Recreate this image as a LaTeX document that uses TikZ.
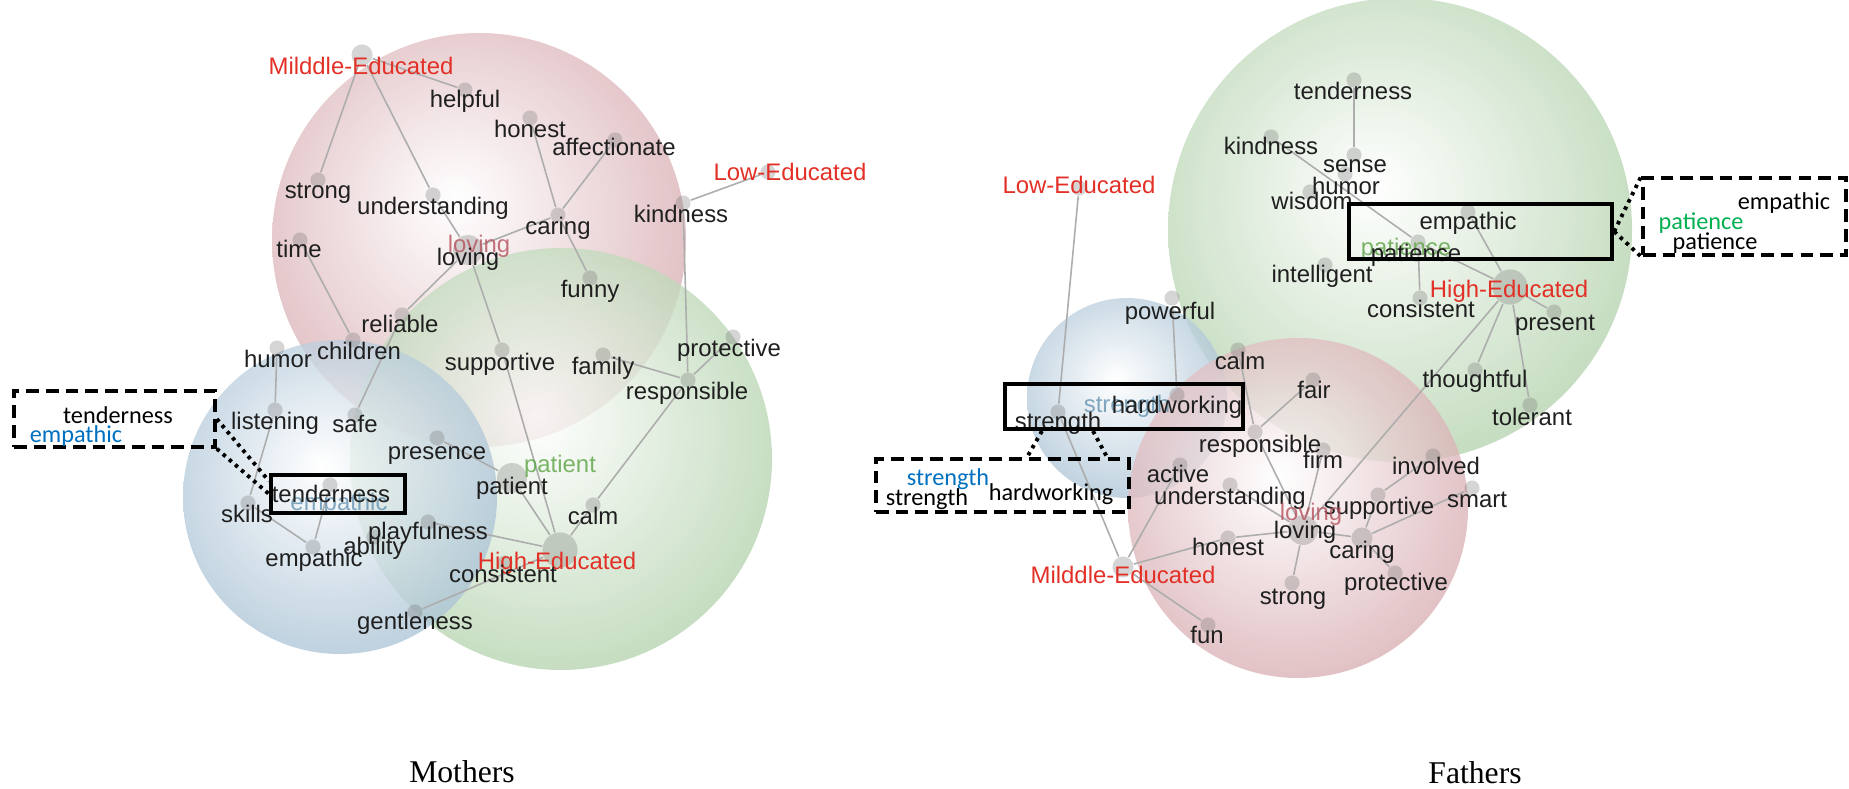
\documentclass[tikz,border=0pt]{standalone}
\usepackage{fontspec}
\setmainfont{Liberation Sans}
\newfontfamily\calloutfont{Carlito}
\newfontfamily\titlefont{Liberation Serif}
\newcommand\wordsize{\fontsize{6.8}{8}\selectfont}
\newcommand\calloutsize{\calloutfont\fontsize{6.9}{8}\selectfont}
\newcommand\titlesize{\titlefont\fontsize{9}{11}\selectfont}
\definecolor{redball}{RGB}{186,110,118}
\definecolor{greenball}{RGB}{122,176,110}
\definecolor{blueball}{RGB}{104,148,180}
\definecolor{edured}{RGB}{226,48,38}
\definecolor{ghostpink}{RGB}{180,82,92}
\definecolor{ghostgreen}{RGB}{100,168,78}
\definecolor{ghostblue}{RGB}{90,140,172}
\definecolor{officeblue}{RGB}{0,112,192}
\definecolor{officegreen}{RGB}{0,176,80}
\pgfdeclareradialshading{redglow}{\pgfpoint{-3bp}{5bp}}{color(0bp)=(white); color(50bp)=(redball)}
\pgfdeclareradialshading{greenglow}{\pgfpoint{-3bp}{5bp}}{color(0bp)=(white); color(50bp)=(greenball)}
\pgfdeclareradialshading{blueglow}{\pgfpoint{-3bp}{5bp}}{color(0bp)=(white); color(50bp)=(blueball)}
\tikzset{ball/.style={opacity=0.78},
         dot/.style={circle,fill=black!55,fill opacity=0.3,draw=none,minimum size=4.3pt,inner sep=0pt},
         hub/.style={dot,minimum size=8.5pt},
         mid hub/.style={dot,minimum size=6pt},
         big hub/.style={dot,minimum size=10pt},
         link/.style={draw=black!32,line width=0.45pt},
         word/.style={rectangle,inner sep=0pt,text height=0.72em,text depth=0pt,font=\wordsize,text=black!88},
         group label/.style={word,text=edured},
         ghost pink/.style={word,text=ghostpink,text opacity=0.8},
         ghost green/.style={word,text=ghostgreen,text opacity=0.85},
         ghost blue/.style={word,text=ghostblue,text opacity=0.75},
         zoom box/.style={rectangle,draw=black,line width=1.15pt,inner sep=0pt},
         callout/.style={rectangle,draw=black,line width=1pt,dash pattern=on 3.6pt off 2pt,inner sep=0pt},
         zoom line/.style={draw=black,line width=1.1pt,dash pattern=on 1pt off 1.3pt},
         callout text/.style={rectangle,inner sep=0pt,text height=0.72em,text depth=0pt,font=\calloutsize},
         title/.style={rectangle,inner sep=0pt,font=\titlesize},
}

\begin{document}
\begin{tikzpicture}[x=0.01cm, y=-0.01cm]

\useasboundingbox (0,0) rectangle (1849,788);

% Mothers
\shade[ball, shading=redglow] (479,240) circle[radius=207];
\shade[ball, shading=greenglow] (561,459) circle[radius=211];
\shade[ball, shading=blueglow] (340,497) circle[radius=157];

% Fathers
\shade[ball, shading=greenglow] (1400,230) circle[radius=232];
\shade[ball, shading=blueglow] (1127,398) circle[radius=100];
\shade[ball, shading=redglow] (1298,508) circle[radius=170];

% Mothers nodes
\node[mid hub] (m_mid) at (362,55) {};
\node[dot] (m_helpful) at (465,90) {};
\node[dot] (m_honest) at (530,118) {};
\node[dot] (m_affect) at (615,140) {};
\node[dot] (m_low) at (768,172) {};
\node[dot] (m_strong) at (318,180) {};
\node[dot] (m_under) at (433,195) {};
\node[dot] (m_kind) at (683,203) {};
\node[dot] (m_caring) at (558,215) {};
\node[dot] (m_time) at (300,240) {};
\node[hub] (m_loving) at (468,250) {};
\node[dot] (m_funny) at (590,278) {};
\node[dot] (m_reliable) at (402,315) {};
\node[dot] (m_prot) at (733,337) {};
\node[dot] (m_children) at (353,340) {};
\node[dot] (m_humor) at (277,348) {};
\node[dot] (m_supp) at (502,350) {};
\node[dot] (m_family) at (603,355) {};
\node[dot] (m_resp) at (688,380) {};
\node[dot] (m_listen) at (275,410) {};
\node[dot] (m_safe) at (355,415) {};
\node[dot] (m_pres) at (437,438) {};
\node[hub] (m_patient) at (512,478) {};
\node[dot] (m_tender) at (330,485) {};
\node[dot] (m_skills) at (248,503) {};
\node[dot] (m_calm) at (593,505) {};
\node[dot] (m_play) at (428,522) {};
\node[dot] (m_ability) at (374,537) {};
\node[dot] (m_empathic) at (313,547) {};
\node[big hub] (m_high) at (560,550) {};
\node[dot] (m_consist) at (505,563) {};
\node[dot] (m_gentle) at (415,612) {};

\draw[link] (m_mid) -- (m_helpful);
\draw[link] (m_mid) -- (m_strong);
\draw[link] (m_mid) -- (m_under);
\draw[link] (m_under) -- (m_loving);
\draw[link] (m_honest) -- (m_caring);
\draw[link] (m_caring) -- (m_funny);
\draw[link] (m_affect) -- (m_caring);
\draw[link] (m_caring) -- (m_loving);
\draw[link] (m_loving) -- (m_supp);
\draw[link] (m_supp) -- (m_high);
\draw[link] (m_loving) -- (m_reliable);
\draw[link] (m_reliable) -- (m_safe);
\draw[link] (m_time) -- (m_children);
\draw[link] (m_humor) -- (m_listen);
\draw[link] (m_listen) -- (m_skills);
\draw[link] (m_skills) -- (m_empathic);
\draw[link] (m_empathic) -- (m_tender);
\draw[link] (m_pres) -- (m_patient);
\draw[link] (m_patient) -- (m_high);
\draw[link] (m_play) -- (m_high);
\draw[link] (m_high) -- (m_gentle);
\draw[link] (m_calm) -- (m_high);
\draw[link] (m_resp) -- (m_calm);
\draw[link] (m_prot) -- (m_resp);
\draw[link] (m_family) -- (m_resp);
\draw[link] (m_kind) -- (m_resp);
\draw[link] (m_kind) -- (m_low);

\node[group label] (m_mid_w) at (361,62) {Milddle-Educated};
\node[word] (m_helpful_w) at (465,95) {helpful};
\node[word] (m_honest_w) at (530,125) {honest};
\node[word] (m_affect_w) at (614,143) {affectionate};
\node[group label] (m_low_w) at (790,168) {Low-Educated};
\node[word] (m_strong_w) at (318,186) {strong};
\node[word] (m_under_w) at (433,202) {understanding};
\node[word] (m_kind_w) at (681,210) {kindness};
\node[word] (m_caring_w) at (558,222) {caring};
\node[word] (m_time_w) at (299,245) {time};
\node[ghost pink] (m_loving_g) at (479,240) {loving};
\node[word] (m_loving_w) at (468,253) {loving};
\node[word] (m_funny_w) at (590,285) {funny};
\node[word] (m_reliable_w) at (400,320) {reliable};
\node[word] (m_prot_w) at (729,344) {protective};
\node[word] (m_children_w) at (359,347) {children};
\node[word] (m_humor_w) at (278,355) {humor};
\node[word] (m_supp_w) at (500,358) {supportive};
\node[word] (m_family_w) at (603,362) {family};
\node[word] (m_resp_w) at (687,387) {responsible};
\node[word] (m_listen_w) at (275,417) {listening};
\node[word] (m_safe_w) at (355,420) {safe};
\node[word] (m_pres_w) at (437,447) {presence};
\node[ghost green] (m_patient_g) at (560,460) {patient};
\node[word] (m_patient_w) at (512,482) {patient};
\node[ghost blue] (m_tender_g) at (339,498) {empathic};
\node[word] (m_tender_w) at (331,490) {tenderness};
\node[word] (m_skills_w) at (247,510) {skills};
\node[word] (m_calm_w) at (593,512) {calm};
\node[word] (m_play_w) at (428,527) {playfulness};
\node[word] (m_ability_w) at (374,542) {ability};
\node[word] (m_empathic_w) at (314,554) {empathic};
\node[group label] (m_high_w) at (557,557) {High-Educated};
\node[word] (m_consist_w) at (503,570) {consistent};
\node[word] (m_gentle_w) at (415,617) {gentleness};

% Mothers zoom
\node[zoom box, minimum width=1.34cm, minimum height=0.38cm] (m_box) at (338,494) {};
\node[callout, minimum width=2.01cm, minimum height=0.56cm] (m_callout) at (114.5,419) {};
\node[callout text] (m_callout_a) at (118,411) {tenderness};
\node[callout text, text=officeblue] (m_callout_b) at (76,430) {empathic};
\draw[zoom line] (m_callout.east) -- ([yshift=-0.08cm]m_box.north west);
\draw[zoom line] (m_callout.south east) -- (m_box.west);

% Fathers nodes
\node[dot] (f_tender) at (1354,80) {};
\node[dot] (f_kind) at (1271,137) {};
\node[dot] (f_sense) at (1354,155) {};
\node[dot] (f_humor) at (1345,174) {};
\node[dot] (f_low) at (1079,188) {};
\node[dot] (f_wisdom) at (1310,192) {};
\node[dot] (f_empathic) at (1468,212) {};
\node[dot] (f_patience) at (1418,242) {};
\node[dot] (f_intel) at (1325,265) {};
\node[big hub] (f_high) at (1510,287) {};
\node[dot] (f_consist) at (1420,298) {};
\node[dot] (f_power) at (1172,298) {};
\node[dot] (f_present) at (1554,312) {};
\node[dot] (f_calm) at (1238,350) {};
\node[dot] (f_thought) at (1475,370) {};
\node[dot] (f_fair) at (1313,380) {};
\node[dot] (f_hard) at (1177,395) {};
\node[dot] (f_tolerant) at (1530,405) {};
\node[dot] (f_strength) at (1058,412) {};
\node[dot] (f_resp) at (1255,432) {};
\node[dot] (f_firm) at (1323,450) {};
\node[dot] (f_involved) at (1433,456) {};
\node[dot] (f_active) at (1180,465) {};
\node[dot] (f_under) at (1230,485) {};
\node[dot] (f_smart) at (1472,488) {};
\node[dot] (f_supp) at (1378,495) {};
\node[hub] (f_loving) at (1303,530) {};
\node[dot] (f_honest) at (1228,538) {};
\node[mid hub] (f_caring) at (1362,538) {};
\node[mid hub] (f_mid) at (1123,567) {};
\node[dot] (f_protect) at (1395,573) {};
\node[dot] (f_strong) at (1292,583) {};
\node[dot] (f_fun) at (1208,625) {};

\draw[link] (f_tender) -- (f_sense);
\draw[link] (f_kind) -- (f_patience);
\draw[link] (f_patience) -- (f_high);
\draw[link] (f_empathic) -- (f_high);
\draw[link] (f_consist) -- (f_patience);
\draw[link] (f_high) -- (f_present);
\draw[link] (f_high) -- (f_thought);
\draw[link] (f_high) -- (f_tolerant);
\draw[link] (f_high) -- (f_loving);
\draw[link] (f_low) -- (f_strength);
\draw[link] (f_strength) -- (f_mid);
\draw[link] (f_power) -- (f_hard);
\draw[link] (f_mid) -- (f_honest);
\draw[link] (f_mid) -- (f_active);
\draw[link] (f_mid) -- (f_fun);
\draw[link] (f_honest) -- (f_loving);
\draw[link] (f_under) -- (f_loving);
\draw[link] (f_calm) -- (f_resp);
\draw[link] (f_resp) -- (f_loving);
\draw[link] (f_fair) -- (f_resp);
\draw[link] (f_firm) -- (f_loving);
\draw[link] (f_loving) -- (f_strong);
\draw[link] (f_loving) -- (f_caring);
\draw[link] (f_caring) -- (f_supp);
\draw[link] (f_supp) -- (f_involved);
\draw[link] (f_caring) -- (f_smart);
\draw[link] (f_caring) -- (f_protect);

\node[word] (f_tender_w) at (1353,87) {tenderness};
\node[word] (f_kind_w) at (1271,142) {kindness};
\node[word] (f_sense_w) at (1355,160) {sense};
\node[word] (f_humor_w) at (1346,182) {humor};
\node[group label] (f_low_w) at (1079,181) {Low-Educated};
\node[word] (f_wisdom_w) at (1312,197) {wisdom};
\node[word] (f_empathic_w) at (1468,217) {empathic};
\node[ghost green] (f_patience_g) at (1406,243) {patience};
\node[word] (f_patience_w) at (1416,249) {patience};
\node[word] (f_intel_w) at (1322,270) {intelligent};
\node[group label] (f_high_w) at (1509,285) {High-Educated};
\node[word] (f_consist_w) at (1421,305) {consistent};
\node[word] (f_power_w) at (1170,307) {powerful};
\node[word] (f_present_w) at (1555,318) {present};
\node[word] (f_calm_w) at (1240,357) {calm};
\node[word] (f_thought_w) at (1475,375) {thoughtful};
\node[word] (f_fair_w) at (1314,386) {fair};
\node[ghost blue] (f_hard_g) at (1127,400) {strength};
\node[word] (f_hard_w) at (1177,401) {hardworking};
\node[word] (f_tolerant_w) at (1532,413) {tolerant};
\node[word] (f_strength_w) at (1058,417) {strength};
\node[word] (f_resp_w) at (1260,440) {responsible};
\node[word] (f_firm_w) at (1323,456) {firm};
\node[word] (f_involved_w) at (1436,462) {involved};
\node[word] (f_active_w) at (1178,470) {active};
\node[word] (f_under_w) at (1230,492) {understanding};
\node[word] (f_smart_w) at (1477,495) {smart};
\node[word] (f_supp_w) at (1379,502) {supportive};
\node[ghost pink] (f_loving_g) at (1311,508) {loving};
\node[word] (f_loving_w) at (1305,526) {loving};
\node[word] (f_honest_w) at (1228,543) {honest};
\node[word] (f_caring_w) at (1362,546) {caring};
\node[group label] (f_mid_w) at (1123,571) {Milddle-Educated};
\node[word] (f_protect_w) at (1396,578) {protective};
\node[word] (f_strong_w) at (1293,592) {strong};
\node[word] (f_fun_w) at (1207,631) {fun};

% Fathers zooms
\node[zoom box, minimum width=2.63cm, minimum height=0.55cm] (f_box) at (1480.5,231.5) {};
\node[callout, minimum width=2.03cm, minimum height=0.77cm] (f_callout) at (1744.5,216.5) {};
\node[callout text] (f_callout_a) at (1784,197) {empathic};
\node[callout text, text=officegreen] (f_callout_b) at (1701,217) {patience};
\node[callout text] (f_callout_c) at (1715,237) {patience};
\draw[zoom line] (f_box.east) -- (f_callout.north west);
\draw[zoom line] (f_box.east) -- (f_callout.south west);

\node[zoom box, minimum width=2.38cm, minimum height=0.45cm] (f_box2) at (1124,406.5) {};
\node[callout, minimum width=2.53cm, minimum height=0.53cm] (f_callout2) at (1002.5,485.5) {};
\node[callout text, text=officeblue] (f_callout2_a) at (948,473) {strength};
\node[callout text] (f_callout2_b) at (927,493) {strength};
\node[callout text] (f_callout2_c) at (1051,488) {hardworking};
\draw[zoom line] ([xshift=-0.82cm]f_box2.south) -- ([xshift=0.245cm]f_callout2.north);
\draw[zoom line] ([xshift=-0.31cm]f_box2.south) -- ([xshift=1.045cm]f_callout2.north);

% titles
\node[title] (m_title) at (462,772) {Mothers};
\node[title] (f_title) at (1475,773) {Fathers};

\end{tikzpicture}
\end{document}
